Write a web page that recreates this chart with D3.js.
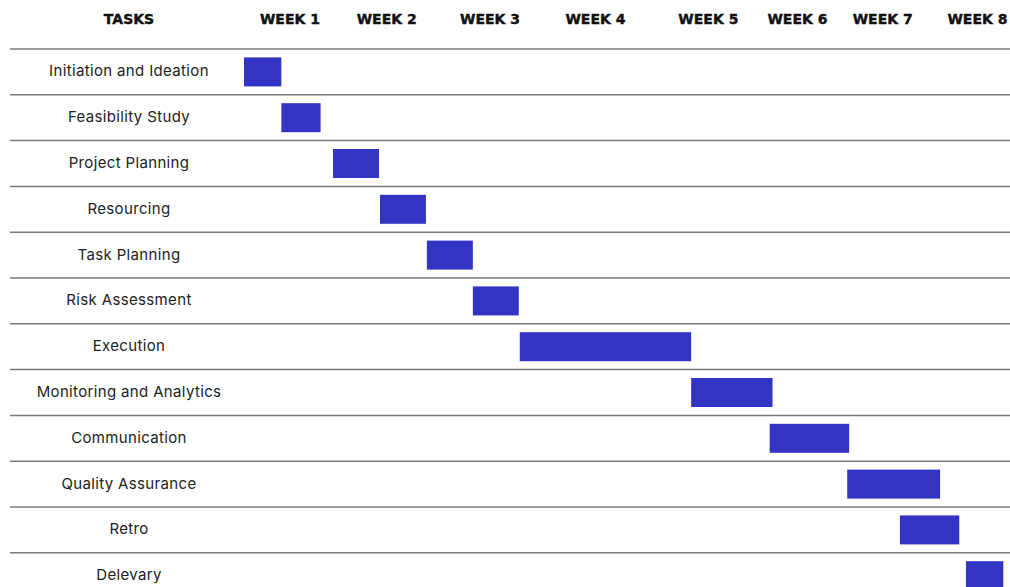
<!DOCTYPE html>
<html>
<head>
<meta charset="utf-8">
<script src="https://cdn.jsdelivr.net/npm/d3@7"></script>
<style>
  html, body { margin: 0; padding: 0; background: #fff; }
</style>
</head>
<body>
<div id="chart"></div>
<script>
// tasks, top to bottom
const tasks = [
  "Initiation and Ideation", "Feasibility Study", "Project Planning", "Resourcing",
  "Task Planning", "Risk Assessment", "Execution", "Monitoring and Analytics",
  "Communication", "Quality Assurance", "Retro", "Delevary"
];
// start / end of each bar, in weeks from the start of the timeline
const starts = [0.00, 0.39, 0.93, 1.42, 1.91, 2.39, 2.88, 4.67, 5.49, 6.30, 6.85, 7.54];
const ends   = [0.39, 0.80, 1.41, 1.90, 2.39, 2.87, 4.67, 5.52, 6.32, 7.27, 7.47, 7.93];
// column headers and where they sit on the week scale
const weekLabels = ["WEEK 1", "WEEK 2", "WEEK 3", "WEEK 4", "WEEK 5", "WEEK 6", "WEEK 7", "WEEK 8"];
const weekPos = [0.48, 1.49, 2.57, 3.67, 4.85, 5.78, 6.67, 7.66];

const width = 1010, height = 587;
const barColor = "#3434c4";

const svg = d3.select("#chart").append("svg")
  .attr("width", width)
  .attr("height", height);

const x = d3.scaleLinear().domain([0, 8]).range([244, 1010]);
const y = d3.scaleBand().domain(tasks).range([49, 49 + 45.8 * 12]).paddingInner(0);

const labelX = 129;

// header
svg.append("text")
  .attr("x", labelX).attr("y", 19)
  .attr("text-anchor", "middle").attr("dominant-baseline", "central")
  .attr("font-family", "DejaVu Sans, sans-serif").attr("font-weight", "bold")
  .attr("font-size", "14px").attr("fill", "#111")
  .attr("stroke", "#111").attr("stroke-width", 0.4)
  .text("TASKS");

svg.selectAll("text.week")
  .data(weekLabels)
  .enter().append("text")
  .attr("class", "week")
  .attr("x", (d, i) => x(weekPos[i])).attr("y", 19)
  .attr("text-anchor", "middle").attr("dominant-baseline", "central")
  .attr("font-family", "DejaVu Sans, sans-serif").attr("font-weight", "bold")
  .attr("font-size", "14px").attr("fill", "#111")
  .attr("stroke", "#111").attr("stroke-width", 0.4)
  .text(d => d);

// row separators
const lines = d3.range(tasks.length).map(i => y(tasks[i]));
svg.selectAll("line.sep")
  .data(lines)
  .enter().append("line")
  .attr("class", "sep")
  .attr("x1", 10).attr("x2", width)
  .attr("y1", d => d).attr("y2", d => d)
  .attr("stroke", "#7a7a7a").attr("stroke-width", 1.5);

// task labels
svg.selectAll("text.task")
  .data(tasks)
  .enter().append("text")
  .attr("class", "task")
  .attr("x", labelX).attr("y", d => y(d) + y.bandwidth() / 2 - 1)
  .attr("text-anchor", "middle").attr("dominant-baseline", "central")
  .attr("font-family", "Inter, sans-serif")
  .attr("font-size", "15px").attr("letter-spacing", "0.35px").attr("fill", "#222")
  .text(d => d);

// bars
const barH = 29;
svg.selectAll("rect.bar")
  .data(tasks)
  .enter().append("rect")
  .attr("class", "bar")
  .attr("x", (d, i) => x(starts[i]))
  .attr("width", (d, i) => x(ends[i]) - x(starts[i]))
  .attr("y", d => y(d) + (y.bandwidth() - barH) / 2)
  .attr("height", barH)
  .attr("fill", barColor);
</script>
</body>
</html>
